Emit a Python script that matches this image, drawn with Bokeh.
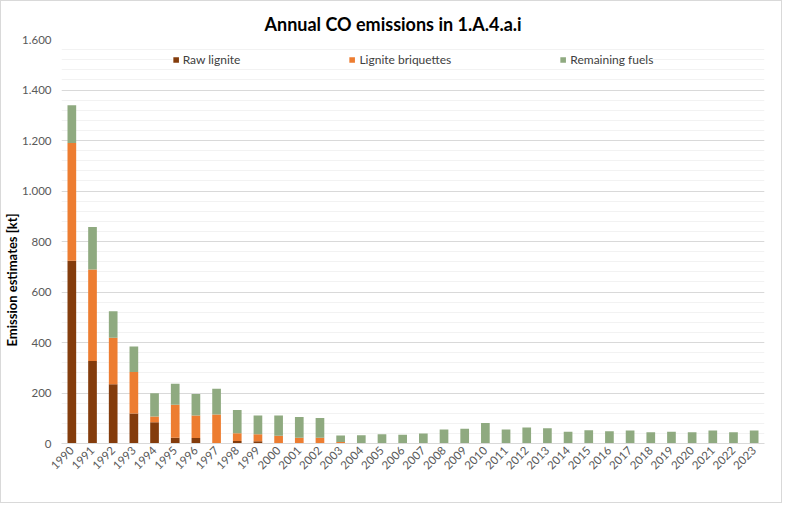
import math
from bokeh.plotting import figure
from bokeh.models import (ColumnDataSource, FactorRange, Range1d, SingleIntervalTicker,
                          CustomJSTickFormatter, Legend, Title)
from bokeh.embed import file_html
from bokeh.resources import INLINE

years = ["1990", "1991", "1992", "1993", "1994", "1995", "1996", "1997", "1998", "1999",
         "2000", "2001", "2002", "2003", "2004", "2005", "2006", "2007", "2008", "2009",
         "2010", "2011", "2012", "2013", "2014", "2015", "2016", "2017", "2018", "2019",
         "2020", "2021", "2022", "2023"]

raw_lignite = [724, 327, 235, 119, 84, 23, 22, 2, 10, 9,
               2, 1, 1, 0, 0, 0, 0, 0, 0, 0,
               0, 0, 0, 0, 0, 0, 0, 0, 0, 0,
               0, 0, 0, 0]
lignite_briquettes = [466, 362, 184, 164, 23, 130, 89, 113, 31, 28,
                      29, 22, 22, 6, 0, 0, 0, 0, 0, 0,
                      0, 0, 0, 0, 0, 0, 0, 0, 0, 0,
                      0, 0, 0, 0]
remaining_fuels = [150, 168, 105, 101, 92, 84, 85, 102, 92, 74,
                   80, 82, 78, 26, 33, 37, 35, 40, 55, 58,
                   81, 55, 63, 60, 47, 52, 49, 51, 45, 47,
                   45, 51, 45, 51]

series_names = ["Raw lignite", "Lignite briquettes", "Remaining fuels"]
series_colors = ["#843C0C", "#ED7D31", "#8FAA80"]
title_text = "Annual CO emissions in 1.A.4.a.i"
y_title = "Emission estimates [kt]"

FONT = "Lato"

src = ColumnDataSource(dict(year=years, raw=raw_lignite, briq=lignite_briquettes, rem=remaining_fuels))

p = figure(x_range=FactorRange(*years), y_range=Range1d(0, 1600),
           width=782, height=503, output_backend="svg", toolbar_location=None,
           min_border_left=60, min_border_right=19, min_border_top=38, min_border_bottom=61,
           title=title_text)

p.title.align = "left"
p.title.offset = 203
p.title.text_font = FONT
p.title.text_font_size = "18px"
p.title.text_font_style = "bold"
p.title.text_color = "#000000"

rs = p.vbar_stack(["raw", "briq", "rem"], x="year", width=0.42, color=series_colors,
                  line_color=None, source=src)

legend = Legend(items=[(n, [r]) for n, r in zip(series_names, rs)],
                orientation="horizontal", location="top_center",
                margin=13, padding=3, spacing=108,
                glyph_width=7, glyph_height=7, label_standoff=4,
                label_text_font=FONT, label_text_font_size="12px", label_text_color="#404040",
                background_fill_color="white", background_fill_alpha=1.0,
                border_line_color=None)
p.add_layout(legend)

p.outline_line_color = None
p.background_fill_color = "white"
p.border_fill_color = "white"

# y axis
p.yaxis.ticker = SingleIntervalTicker(interval=200, num_minor_ticks=5)
p.yaxis.formatter = CustomJSTickFormatter(
    code="return tick.toString().replace(/\\B(?=(\\d{3})+(?!\\d))/g, '.');")
p.yaxis.axis_line_color = None
p.yaxis.major_tick_line_color = None
p.yaxis.minor_tick_line_color = None
p.yaxis.major_tick_out = 0
p.yaxis.minor_tick_out = 0
p.yaxis.major_label_standoff = 10
p.yaxis.major_label_text_font = FONT
p.yaxis.major_label_text_font_size = "11.5px"
p.yaxis.major_label_text_color = "#595959"

ytitle = Title(text=y_title, align="left", offset=97, standoff=0,
               text_font=FONT, text_font_size="13px", text_font_style="bold",
               text_color="#000000")
p.add_layout(ytitle, "left")

p.ygrid.grid_line_color = "#D9D9D9"
p.ygrid.minor_grid_line_color = "#F2F2F2"
p.xgrid.grid_line_color = None

# x axis
p.xaxis.axis_line_color = "#D9D9D9"
p.xaxis.major_tick_line_color = None
p.xaxis.minor_tick_line_color = None
p.xaxis.major_tick_out = 0
p.xaxis.major_label_orientation = math.pi / 4
p.xaxis.major_label_standoff = 5
p.xaxis.major_label_text_font = FONT
p.xaxis.major_label_text_font_size = "11.5px"
p.xaxis.major_label_text_color = "#595959"

p.styles = {"border": "1px solid #D9D9D9"}

open("out.html", "w").write(file_html(p, INLINE))
